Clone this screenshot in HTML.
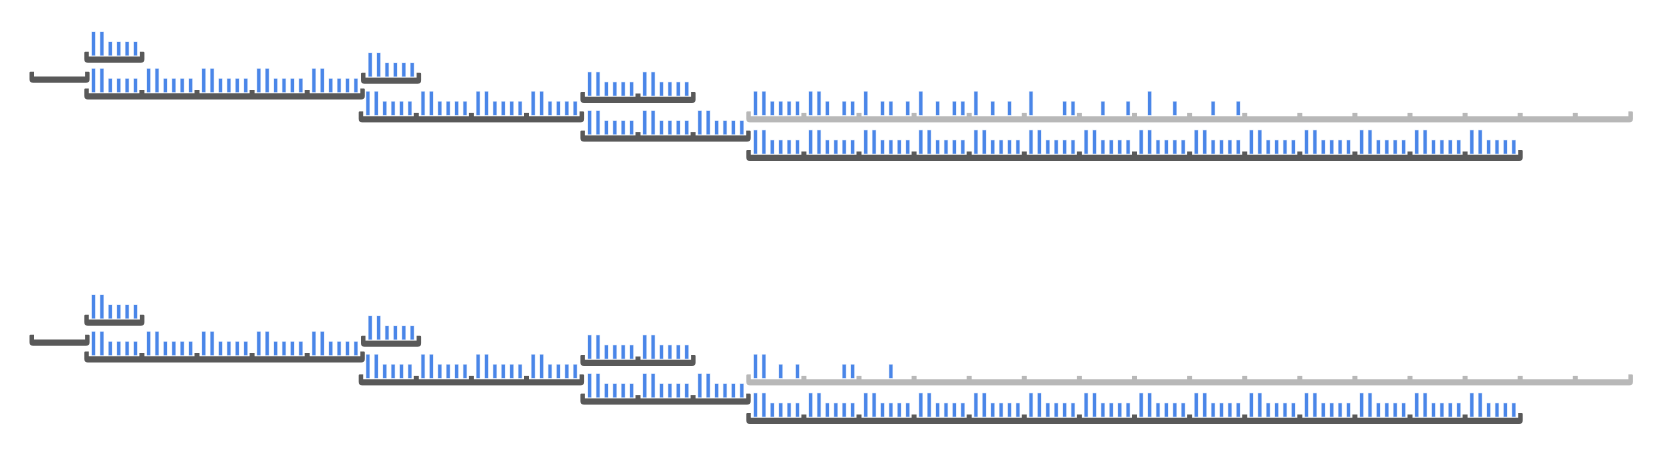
<!DOCTYPE html>
<html><head><meta charset="utf-8">
<style>
html,body{margin:0;padding:0;background:#fff;}
svg{display:block;}
</style></head>
<body>
<svg id="chart" width="1679" height="466" viewBox="0 0 1679 466" xmlns="http://www.w3.org/2000/svg"></svg>
<script>
// Bracket layout (one half; second half is offset vertically)
const bracketNames = ['a','b','c','d','e','f','g','h','i'];
const bracketX = [29.5, 84.3, 84.3, 361, 358.7, 580.4, 580.4, 746.3, 746.3];
const bracketY = [71.7, 51.7, 88.5, 72.8, 111.4, 92, 130.6, 111.4, 150];
const bracketCells = [1, 1, 5, 1, 4, 2, 3, 16, 14];
const bracketFilled = [false, true, true, true, true, true, true, false, true];
const bracketLight = [false, false, false, false, false, false, false, true, false];
// bar values per slot (tall, tall, short x4)
const slotValues = [20, 20, 10, 10, 10, 10];
// sparse bars on the light bracket, per cell: present slots
const sparseTop = [[0,1,2,3,4,5],[0,1,2,4,5],[0,2,3,5],[0,2,4,5],[0,2,4],[0,4,5],[2,5],[1,4],[2,5]];
const sparseBottom = [[0,1,3,5],[4,5],[3]];
const halfOffsets = [0, 263];

const svg = document.getElementById('chart');
const NS = 'http://www.w3.org/2000/svg';
const CELL = 55.1, PAD = 2.5, PITCH = 8.4, BW = 3.8, BAR_GAP = 4.8;
const yScale = v => v * 1.0;          // value -> pixel height
function mk(tag, attrs){ const e=document.createElementNS(NS,tag); for(const k in attrs) e.setAttribute(k,attrs[k]); return e; }

function drawBracket(g, x0, y0, n, light){
  const col = light ? '#b8b8b8' : '#595959';
  const w = n*CELL + 2*PAD;
  const p = `M${x0} ${y0+1} Q${x0} ${y0} ${x0+1} ${y0} L${x0+4.5} ${y0} L${x0+4.5} ${y0+4.8} L${x0+w-4.5} ${y0+4.8} L${x0+w-4.5} ${y0} L${x0+w-1} ${y0} Q${x0+w} ${y0} ${x0+w} ${y0+1} L${x0+w} ${y0+7.5} Q${x0+w} ${y0+11} ${x0+w-3.5} ${y0+11} L${x0+3.5} ${y0+11} Q${x0} ${y0+11} ${x0} ${y0+7.5} Z`;
  const path = mk('path',{d:p, fill:col});
  
  
  g.appendChild(path);
  for(let k=1;k<n;k++){
    const tx = x0 + PAD + k*CELL;
    const t = mk('rect',{x:tx-2.5, y:y0+1.5, width:5, height:4, fill:col});
    
    
    g.appendChild(t);
  }
}
function drawBar(g, cellX, y0, s){
  const h = yScale(slotValues[s]) + 4;
  const r = mk('rect',{x:cellX + BAR_GAP + s*PITCH, y:y0+4-h, width:BW, height:h, fill:'#4a86e8', stroke:'#dce8fb', 'stroke-width':0.5});
  
  
  g.appendChild(r);
}

halfOffsets.forEach((off, hi) => {
  const half = mk('g',{});
  
  
  svg.appendChild(half);
  for(let b=0;b<bracketX.length;b++){
    const g = mk('g',{});
    
    
    half.appendChild(g);
    const x0 = bracketX[b], y0 = bracketY[b] + off, n = bracketCells[b];
    drawBracket(g, x0, y0, n, bracketLight[b]);
    if(bracketFilled[b]){
      for(let c=0;c<n;c++) for(let s=0;s<6;s++) drawBar(g, x0+PAD+c*CELL, y0, s);
    } else if(bracketLight[b]){
      const masks = hi === 0 ? sparseTop : sparseBottom;
      masks.forEach((m, c) => m.forEach(s => drawBar(g, x0+PAD+c*CELL, y0, s)));
    }
  }
});
</script>
</body></html>
